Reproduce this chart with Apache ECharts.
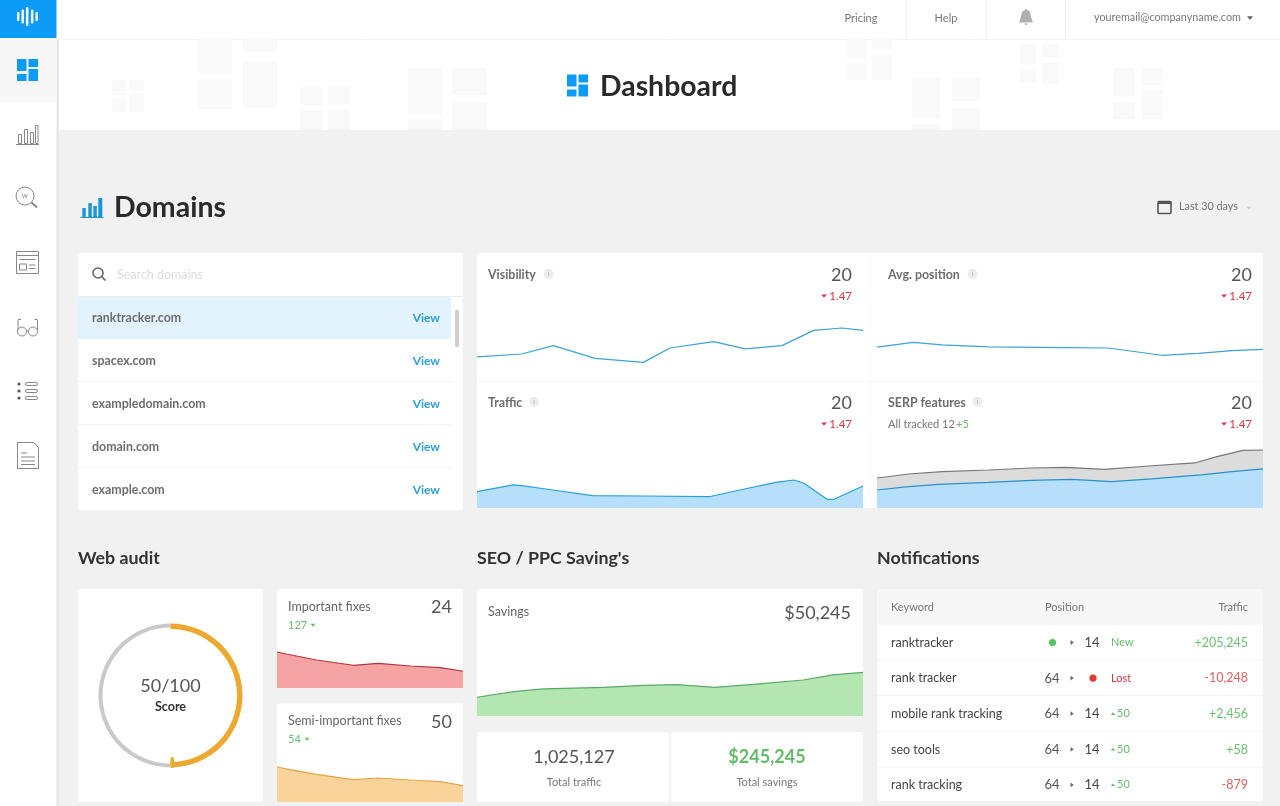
<!DOCTYPE html>
<html>
<head>
<meta charset="utf-8">
<style>html,body{margin:0;padding:0;background:#f1f1f1}#c{width:1280px;height:806px}</style>
<script src="https://cdn.jsdelivr.net/npm/echarts@6/dist/echarts.min.js"></script>
</head>
<body>
<div id="c"></div>
<script>
// ---- data: x = % of the period, y = index 0-100 ----
const visibilityX = [0, 11.6, 19.8, 30.6, 43.1, 50, 61.3, 69.5, 79, 87.2, 94.6, 100];
const visibilityY = [29, 32.5, 43, 27, 22, 40, 48, 39, 43, 62, 65, 62];
const avgPositionX = [0, 9.4, 16.8, 28.8, 48.7, 59.9, 73.8, 83.3, 91.9, 100];
const avgPositionY = [41, 47, 44, 41.3, 40.4, 40, 30.9, 33.4, 36.6, 38.4];
const trafficX = [0, 9.4, 11.6, 19.6, 30, 43, 60.1, 69.6, 77.4, 82.1, 84.7, 90.7, 92.5, 100];
const trafficY = [20.4, 28.8, 27.9, 22.5, 15.4, 15, 14.1, 24.1, 32.1, 35, 30.9, 10.9, 10.9, 27.5];
const serpAllX = [0, 8.2, 16.8, 28.8, 40, 48.7, 59, 70.3, 82.3, 88.3, 94.8, 100];
const serpAllY = [37.5, 42.5, 45.4, 47.5, 50, 50.9, 48.4, 52.5, 56.3, 64.6, 72.1, 72.5];
const serpOwnX = [0, 8.2, 15.9, 28.8, 40, 50.4, 60.8, 71.1, 84, 91.9, 100];
const serpOwnY = [22.5, 26.6, 29.6, 32.1, 34.6, 35.9, 32.9, 36.3, 41.3, 45.4, 48.8];
const fixesX = [0, 5, 21.2, 41, 54.5, 71.6, 87.8, 100];
const importantY = [45, 42.5, 35, 28.4, 30.9, 27.5, 25.4, 20.9];
const semiImportantY = [44.1, 41.3, 34.6, 27.9, 30, 27.5, 25.4, 20.4];
const savingsX = [0, 9.5, 17.2, 32.8, 43.1, 51.7, 61.6, 71.6, 84.5, 92.2, 100];
const savingsY = [23.4, 30.4, 33.8, 35.9, 38.4, 39.1, 35.9, 39.6, 45, 51.3, 54.6];
const scoreValue = 50;
const scoreRest = 50;
const domains = ['ranktracker.com', 'spacex.com', 'exampledomain.com', 'domain.com', 'example.com'];
const keywords = ['ranktracker', 'rank tracker', 'mobile rank tracking', 'seo tools', 'rank tracking'];
const positionFrom = ['', '64', '64', '64', '64'];
const positionTo = ['14', '', '14', '14', '14'];
const positionChange = ['New', 'Lost', '50', '50', '50'];
const trafficChange = ['+205,245', '-10,248', '+2,456', '+58', '-879'];

// ---- helpers ----
const F = 'Lato, "Noto Sans", sans-serif';
const els = [];
function R(x, y, w, h, fill, r) { els.push({type:'rect', silent:true, shape:{x, y, width:w, height:h, r:r||0}, style:{fill}}); }
function RS(x, y, w, h, stroke, lw, r) { els.push({type:'rect', silent:true, shape:{x, y, width:w, height:h, r:r||0}, style:{fill:'none', stroke, lineWidth:lw||1}}); }
function L(x1, y1, x2, y2, stroke, lw) { els.push({type:'line', silent:true, shape:{x1, y1, x2, y2}, style:{stroke, lineWidth:lw||1}}); }
function C(cx, cy, r, fill, stroke, lw) { els.push({type:'circle', silent:true, shape:{cx, cy, r}, style:{fill:fill||'none', stroke:stroke||'none', lineWidth:lw||1}}); }
function P(points, fill) { els.push({type:'polygon', silent:true, shape:{points}, style:{fill}}); }
function T(text, x, y, size, fill, o) {
  o = o || {};
  const dy = size < 12 ? 0 : size < 20 ? 1 : 1.5;
  els.push({type:'text', silent:true, style:{text, x, y:y + dy, fontSize:size, fontFamily:F, fontWeight:o.w||'normal', fill, align:o.a||'left', verticalAlign:'middle'}});
}
function triDown(cx, cy, s, fill) { P([[cx-s, cy-s*0.55], [cx+s, cy-s*0.55], [cx, cy+s*0.65]], fill); }
function triUp(cx, cy, s, fill) { P([[cx-s, cy+s*0.55], [cx+s, cy+s*0.55], [cx, cy-s*0.65]], fill); }
function triRight(cx, cy, s, fill) { P([[cx-s*0.6, cy-s], [cx-s*0.6, cy+s], [cx+s*0.7, cy]], fill); }
function dash(x, y, c) {
  R(x, y, 9.5, 12, c); R(x, y+15, 9.5, 7, c); R(x+11.5, y, 9.5, 8, c); R(x+11.5, y+10, 9.5, 12, c);
}

// ---- page frame ----
const W = '#fff', MARK = '#f9f9f9', BLUE = '#0d9bf8', LINK = '#2a9fd8', RED = '#d9363e', GREEN = '#66bb6a';
R(0, 39, 1280, 91, W);
R(0, 0, 1280, 39, W);
L(57, 39.5, 1280, 39.5, '#f4f4f4');
// watermark
[[112,80,14,15],[112,98,14,14],[129,80,15,10],[129,93,15,19],
 [198,39,34,34],[198,80,34,29],[243,39,34,13],[243,62,34,46],
 [300,87,22,18],[300,110,22,20],[328,87,22,17],[328,110,22,20],
 [408,68,34,47],[408,120,34,10],[452,68,35,27],[452,102,35,28],
 [847,39,19,20],[847,64,19,16],[872,39,20,10],[872,55,20,25],
 [912,77,28,41],[912,124,28,6],[952,77,28,24],[952,108,28,22],
 [1020,44,16,20],[1020,70,16,13],[1042,44,17,14],[1042,63,17,21],
 [1113,68,22,28],[1113,102,22,17],[1142,68,21,17],[1142,90,21,29]
].forEach(a => R(a[0], a[1], a[2], a[3], MARK));

// sidebar
R(0, 0, 56.5, 806, W);
R(56.5, 39, 2.5, 767, '#e8e8e8');
R(0, 0, 56.5, 38, BLUE);
R(0, 38, 56.5, 64, '#f7f7f7');
[[17,12,9],[21.5,9.5,14],[26,7,19],[31,9.5,14],[35.5,12,9]].forEach(a => R(a[0], a[1], 2.4, a[2], W, 1));
dash(17, 59, BLUE);
const IC = '#888';
// chart icon
L(16, 144.5, 39, 144.5, IC);
RS(18.5, 134.5, 3, 9, IC); RS(24.5, 129.5, 3, 14, IC); RS(30.5, 132.5, 3, 11, IC); RS(35.5, 125.5, 2.5, 18, IC);
// search-web icon
C(25, 196, 9, null, IC); L(31.5, 202.5, 37, 207.5, IC, 2); T('w', 25, 195.5, 8, IC, {a:'center'});
// layout icon
RS(16.5, 251.5, 22, 22, IC); L(16.5, 255.5, 38.5, 255.5, IC); L(19.5, 259.5, 35.5, 259.5, IC);
RS(19.5, 264, 7, 6, IC); L(29, 265, 35.5, 265, IC); L(29, 268.5, 35.5, 268.5, IC);
// glasses icon
C(22, 331.5, 4.5, null, IC); C(33, 331.5, 4.5, null, IC); L(26.5, 331, 28.5, 331, IC);
L(18, 330, 18, 320, IC); L(37.5, 330, 37.5, 320, IC); L(18, 319.5, 21, 319.5, IC); L(34.5, 319.5, 37.5, 319.5, IC);
// list icon
[384, 391, 398].forEach(y => { C(19, y, 1.6, '#555'); RS(25.5, y-1.5, 12, 3, IC, 1, 1.5); });
// doc icon
L(17, 442.5, 33, 442.5, IC); L(33, 442, 39, 448, IC); L(17.5, 442, 17.5, 469, IC); L(38.5, 448, 38.5, 469, IC); L(17, 468.5, 39, 468.5, IC);
[453, 457, 461, 464.5].forEach((y, i) => L(21, y, i === 0 ? 27 : 35, y, IC));

// top bar
[906.5, 986.5, 1065.5].forEach(x => L(x, 0, x, 39, '#f2f2f2'));
T('Pricing', 861, 18, 11, '#777', {a:'center'});
T('Help', 946, 18, 11, '#777', {a:'center'});
C(1026, 14.5, 4.5, '#b0b0b0');
P([[1021.5,14.5],[1030.5,14.5],[1032,20],[1033,22.5],[1019,22.5],[1020,20]], '#b0b0b0');
P([[1024,23.5],[1028,23.5],[1026,25.5]], '#b0b0b0');
C(1026, 10, 1, '#b0b0b0');
T('youremail@companyname.com', 1094, 18, 10.8, '#777');
triDown(1250, 18, 3, '#666');

// header
dash(567, 74.5, BLUE);
T('Dashboard', 600, 85, 28.4, '#2a2a2a', {w:'bold'});

// section heads
[[82.3,208,3.5,9],[88.3,203,3.5,14],[93.3,206,3.5,11],[98.3,198,4,19]].forEach(a => R(a[0], a[1], a[2], a[3], '#1c96d8'));
L(80.5, 217.5, 103.5, 217.5, '#1c96d8');
T('Domains', 114, 206, 28.5, '#2a2a2a', {w:'bold'});
RS(1158, 201.5, 13, 12, '#555', 1.6, 1); R(1158, 201, 13, 3, '#555');
T('Last 30 days', 1179, 207, 10.8, '#777');
triDown(1249, 208, 2.5, '#ccc');
T('Web audit', 78, 557, 17.8, '#333', {w:'bold'});
T("SEO / PPC Saving's", 477, 557, 17.8, '#333', {w:'bold'});
T('Notifications', 877, 557, 17.8, '#333', {w:'bold'});

// domains card
R(78, 253, 385, 257, W, 2);
L(78, 296.5, 463, 296.5, '#ececec');
C(98, 273, 5, null, '#666', 1.6); L(102, 277, 105.5, 280.5, '#666', 1.6);
T('Search domains', 117, 273.5, 12.5, '#dcdcdc');
R(78, 297, 373, 42, '#e3f3fd');
R(455, 309.5, 4, 38, '#cfcfcf', 2);
[381.5, 424.5, 467.5].forEach(y => L(78, y, 451, y, '#f3f3f3'));
domains.forEach((d, i) => {
  const y = 316.8 + i * 43;
  T(d, 92, y, 12.4, '#6e6e6e', {w:'bold'});
  T('View', 440, y, 12, LINK, {a:'right', w:'bold'});
});

// metric cards
R(477, 253, 786, 255, W, 2);
L(477, 381.5, 1263, 381.5, '#f5f5f5');
L(870.5, 253, 870.5, 508, '#f9f9f9');
function metric(title, tx, ty, ix, rx) {
  T(title, tx, ty - 0.5, 12.4, '#6e6e6e', {w:'bold'});
  C(ix, ty, 5, '#ececec'); T('i', ix, ty, 7, '#aaa', {a:'center'});
  T('20', rx, ty, 18, '#555', {a:'right'});
  T('1.47', rx, ty + 22, 11.5, RED, {a:'right'});
  triDown(rx - 28, ty + 22, 2.8, RED);
}
metric('Visibility', 488, 274, 548.5, 852);
metric('Avg. position', 888, 274, 972.5, 1252);
metric('Traffic', 488, 402, 534, 852);
metric('SERP features', 888, 402, 977.5, 1252);
T('All tracked 12', 888, 424, 11, '#777');
T('+5', 956, 424, 11, GREEN);

// web audit
R(78, 589, 185, 213, W, 2);
T('50/100', 170.5, 685, 18, '#555', {a:'center'});
T('Score', 170.5, 705.5, 12.5, '#333', {a:'center', w:'bold'});
R(170.5, 757, 3.5, 11, '#eda92f', 1.5);

R(277, 589, 186, 99, W, 2);
T('Important fixes', 288, 606, 12.5, '#666');
T('24', 452, 606.5, 18, '#555', {a:'right'});
T('127', 288, 625, 11, GREEN);
triDown(313, 625, 2.5, GREEN);
R(277, 703.5, 186, 98.5, W, 2);
T('Semi-important fixes', 288, 720, 12.5, '#666');
T('50', 452, 721, 18, '#555', {a:'right'});
T('54', 288, 739, 11, GREEN);
triDown(307, 739, 2.5, GREEN);

// savings
R(477, 589, 386, 127, W, 2);
T('Savings', 488, 611, 12.5, '#666');
T('$50,245', 851, 612, 18, '#555', {a:'right'});
R(477, 732, 192, 70, W, 2);
R(671, 732, 192, 70, W, 2);
T('1,025,127', 574, 756.5, 18, '#555', {a:'center'});
T('Total traffic', 574, 782, 11, '#777', {a:'center'});
T('$245,245', 767, 756.5, 18, GREEN, {a:'center', w:'bold'});
T('Total savings', 767, 782, 11, '#777', {a:'center'});

// notifications
R(877.5, 589, 385.5, 212, W, 2);
R(877.5, 589, 385.5, 36, '#f7f7f7', 2);
T('Keyword', 891, 607, 11, '#777');
T('Position', 1045, 607, 11, '#777');
T('Traffic', 1248, 607, 11, '#777', {a:'right'});
[660, 695.5, 731.5, 767].forEach(y => L(877.5, y, 1263, y, '#f4f4f4'));
const TRED = '#e0605f', TGREEN = '#6cc070';
keywords.forEach((k, i) => {
  const y = 641.8 + i * 35.6;
  const cy = y + 0.7;
  T(k, 891, y, 12.5, '#444');
  if (positionFrom[i]) T(positionFrom[i], 1052, y, 13, '#555', {a:'center'});
  else C(1052.5, cy, 3.6, '#55c45f');
  triRight(1072, cy, 2.4, '#666');
  if (positionTo[i]) T(positionTo[i], 1092, y, 13, '#444', {a:'center'});
  else C(1093, cy, 3.6, '#e53935');
  const lost = positionChange[i] === 'Lost';
  if (positionChange[i] === '50') {
    triUp(1113, cy, 2.2, GREEN);
    T(positionChange[i], 1117, cy, 11, GREEN);
  } else {
    T(positionChange[i], 1111, cy, 11, lost ? RED : GREEN);
  }
  T(trafficChange[i], 1248, y, 12.5, trafficChange[i][0] === '-' ? TRED : TGREEN, {a:'right'});
});

// ---- charts ----
const H = 80;
const panels = [
  {x:477, b:380, w:386, s:[[visibilityX, visibilityY, '#3aa3d8', null]]},
  {x:877, b:380, w:386, s:[[avgPositionX, avgPositionY, '#3aa3d8', null]]},
  {x:477, b:508, w:386, s:[[trafficX, trafficY, '#2a9fd8', '#b5dffa']]},
  {x:877, b:508, w:386, s:[[serpAllX, serpAllY, '#777', '#dcdcdc'], [serpOwnX, serpOwnY, '#2a8fd0', '#b5dffa']]},
  {x:277, b:688, w:186, s:[[fixesX, importantY, '#b5343c', '#f5a3a3']]},
  {x:277, b:802, w:186, s:[[fixesX, semiImportantY, '#e3a44a', '#fad39a']]},
  {x:477, b:716, w:386, s:[[savingsX, savingsY, '#5aa968', '#b3e6b0']]}
];
const grid = [], xAxis = [], yAxis = [], series = [];
panels.forEach((p, i) => {
  grid.push({left:p.x, top:p.b - H, width:p.w, height:H, show:false});
  xAxis.push({type:'value', gridIndex:i, min:0, max:100, show:false});
  yAxis.push({type:'value', gridIndex:i, min:0, max:100, show:false});
  p.s.forEach(s => series.push({
    type:'line', xAxisIndex:i, yAxisIndex:i, symbol:'none', silent:true, animation:false,
    data:s[0].map((x, j) => [x, s[1][j]]),
    lineStyle:{color:s[2], width:1.2},
    areaStyle:s[3] ? {color:s[3], opacity:1} : undefined
  }));
});
series.push({
  type:'pie', silent:true, animation:false, center:[170.5, 695.5], radius:[68, 72], startAngle:90, clockwise:false,
  label:{show:false}, labelLine:{show:false},
  data:[{value:scoreValue, itemStyle:{color:'#c9c9c9'}}, {value:scoreRest, itemStyle:{color:'transparent'}}]
});
series.push({
  type:'pie', silent:true, animation:false, center:[170.5, 695.5], radius:[66.5, 72], startAngle:90, clockwise:true,
  label:{show:false}, labelLine:{show:false},
  data:[{value:scoreValue, itemStyle:{color:'#eda92f'}}, {value:scoreRest, itemStyle:{color:'transparent'}}]
});

const chart = echarts.init(document.getElementById('c'), null, {renderer:'canvas', width:1280, height:806});
chart.setOption({animation:false, backgroundColor:'#f1f1f1', grid, xAxis, yAxis, series, graphic:{elements:els}});
</script>
</body>
</html>
